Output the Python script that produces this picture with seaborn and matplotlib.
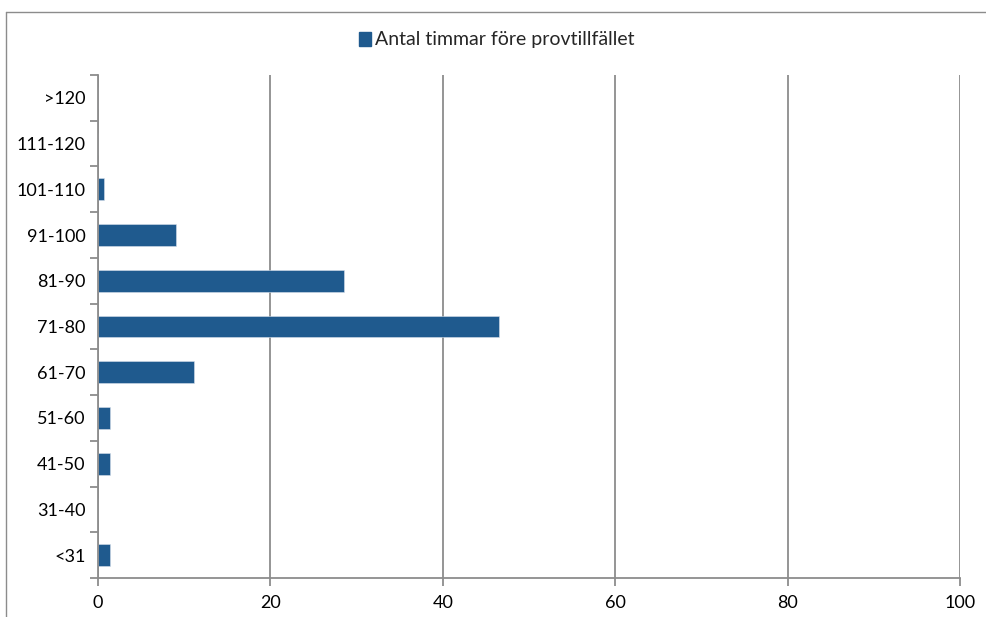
import matplotlib
matplotlib.use("Agg")
import matplotlib.pyplot as plt
import seaborn as sns
import pandas as pd
from matplotlib.lines import Line2D
from matplotlib.patches import Patch
from matplotlib.ticker import FixedLocator

categories = ["<31", "31-40", "41-50", "51-60", "61-70", "71-80", "81-90", "91-100", "101-110", "111-120", ">120"]
values = [1.4, 0, 1.4, 1.4, 11.1, 46.5, 28.5, 9.0, 0.7, 0, 0]
series_name = "Antal timmar före provtillfället"
x_ticks = [0, 20, 40, 60, 80, 100]

sns.set_theme(style="white")
plt.rcParams['font.family'] = ['Lato', 'DejaVu Sans']

df = pd.DataFrame({"kategori": categories, "varde": values})
order = categories[::-1]

fig = plt.figure(figsize=(9.86, 6.17), dpi=100)
ax = fig.add_axes([98/986, 1-578/617, (960-98)/986, (578-75)/617])

bar_color = "#1F5A8E"
grid_color = "#8C8C8C"
sns.barplot(data=df, y="kategori", x="varde", order=order, orient="h",
            color=bar_color, saturation=1, width=0.48, ax=ax,
            edgecolor="#d6e0ea", linewidth=0.4)

ax.set_xlim(0, 100)
ax.set_ylim(len(categories) - 0.5, -0.5)
ax.set_xticks(x_ticks)
ax.set_xticklabels([str(t) for t in x_ticks])
ax.set_xlabel("")
ax.set_ylabel("")

ax.xaxis.grid(True, color=grid_color, linewidth=1.3)
ax.yaxis.grid(False)
ax.set_axisbelow(True)

for s in ["top", "right"]:
    ax.spines[s].set_visible(False)
for s in ["left", "bottom"]:
    ax.spines[s].set_visible(True)
    ax.spines[s].set_color(grid_color)
    ax.spines[s].set_linewidth(1.3)

ax.tick_params(axis="x", which="major", direction="out", length=6, width=1.3,
               color=grid_color, labelsize=13, labelcolor="black", pad=6, bottom=True)
ax.tick_params(axis="y", which="major", length=0, labelsize=13, labelcolor="black", pad=9)
ax.yaxis.set_minor_locator(FixedLocator([i - 0.5 for i in range(len(categories) + 1)]))
ax.tick_params(axis="y", which="minor", direction="out", length=6, width=1.3,
               color=grid_color, left=True)

handle = Patch(facecolor=bar_color, edgecolor=bar_color)
fig.legend(handles=[handle], labels=[series_name], loc="center",
           bbox_to_anchor=(0.504, 1-40/617), frameon=False, fontsize=14,
           handlelength=0.6, handleheight=0.7, handletextpad=0.25)

# outer chart frame
fx = 6/986
fy = 1-12/617
fig.add_artist(Line2D([fx, fx], [0, fy], transform=fig.transFigure, color=grid_color, linewidth=1.0))
fig.add_artist(Line2D([fx, 1], [fy, fy], transform=fig.transFigure, color=grid_color, linewidth=1.0))

fig.savefig("out.png", dpi=100)
